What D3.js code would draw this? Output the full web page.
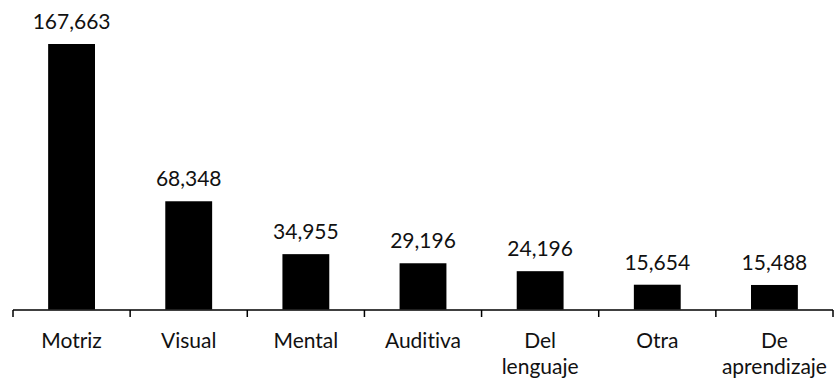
<!DOCTYPE html>
<html><head><meta charset="utf-8">
<script src="https://cdn.jsdelivr.net/npm/d3@7"></script>
<style>html,body{margin:0;padding:0;background:#fff;}svg{display:block;}text{font-variant-ligatures:none;font-feature-settings:"liga" 0;}</style>
</head><body>
<script>
const categories = [["Motriz"],["Visual"],["Mental"],["Auditiva"],["Del","lenguaje"],["Otra"],["De","aprendizaje"]];
const values = [167663, 68348, 34955, 29196, 24196, 15654, 15488];
const valueLabels = ["167,663","68,348","34,955","29,196","24,196","15,654","15,488"];

const W = 835, H = 383;
const svg = d3.select("body").append("svg").attr("width", W).attr("height", H);
const idx = d3.range(values.length);
const x = d3.scaleBand().domain(idx).range([13, 833]).paddingInner(0.6).paddingOuter(0.3);
const y = d3.scaleLinear().domain([0, 167663]).range([309.5, 44]);
const font = "Lato, 'Open Sans', sans-serif";

svg.selectAll("rect.bar").data(idx).join("rect")
  .attr("x", i => x(i)).attr("y", i => y(values[i]))
  .attr("width", x.bandwidth()).attr("height", i => y(0) - y(values[i]))
  .attr("fill", "#000");

svg.selectAll("text.val").data(idx).join("text")
  .attr("x", i => x(i) + x.bandwidth()/2).attr("y", i => y(values[i]) - 15)
  .attr("text-anchor", "middle").attr("font-family", font).attr("font-size", 21)
  .attr("fill", "#111").text(i => valueLabels[i]);

// axis
const axisY = 310;
svg.append("line").attr("x1", 13).attr("x2", 833).attr("y1", axisY).attr("y2", axisY)
  .attr("stroke", "#000").attr("stroke-width", 1.5);
const step = x.step();
svg.selectAll("line.tick").data(d3.range(values.length + 1)).join("line")
  .attr("x1", k => x(0) + x.bandwidth()/2 - step/2 + k*step)
  .attr("x2", k => x(0) + x.bandwidth()/2 - step/2 + k*step)
  .attr("y1", axisY).attr("y2", axisY + 7).attr("stroke", "#000").attr("stroke-width", 1.5);

const lab = svg.selectAll("text.cat").data(idx).join("text")
  .attr("text-anchor", "middle").attr("font-family", font).attr("font-size", 21).attr("fill", "#111");
lab.each(function(i){
  const t = d3.select(this);
  categories[i].forEach((line, j) => {
    t.append("tspan").attr("x", x(i) + x.bandwidth()/2).attr("y", 348 + j*26).text(line);
  });
});
</script>
</body></html>
